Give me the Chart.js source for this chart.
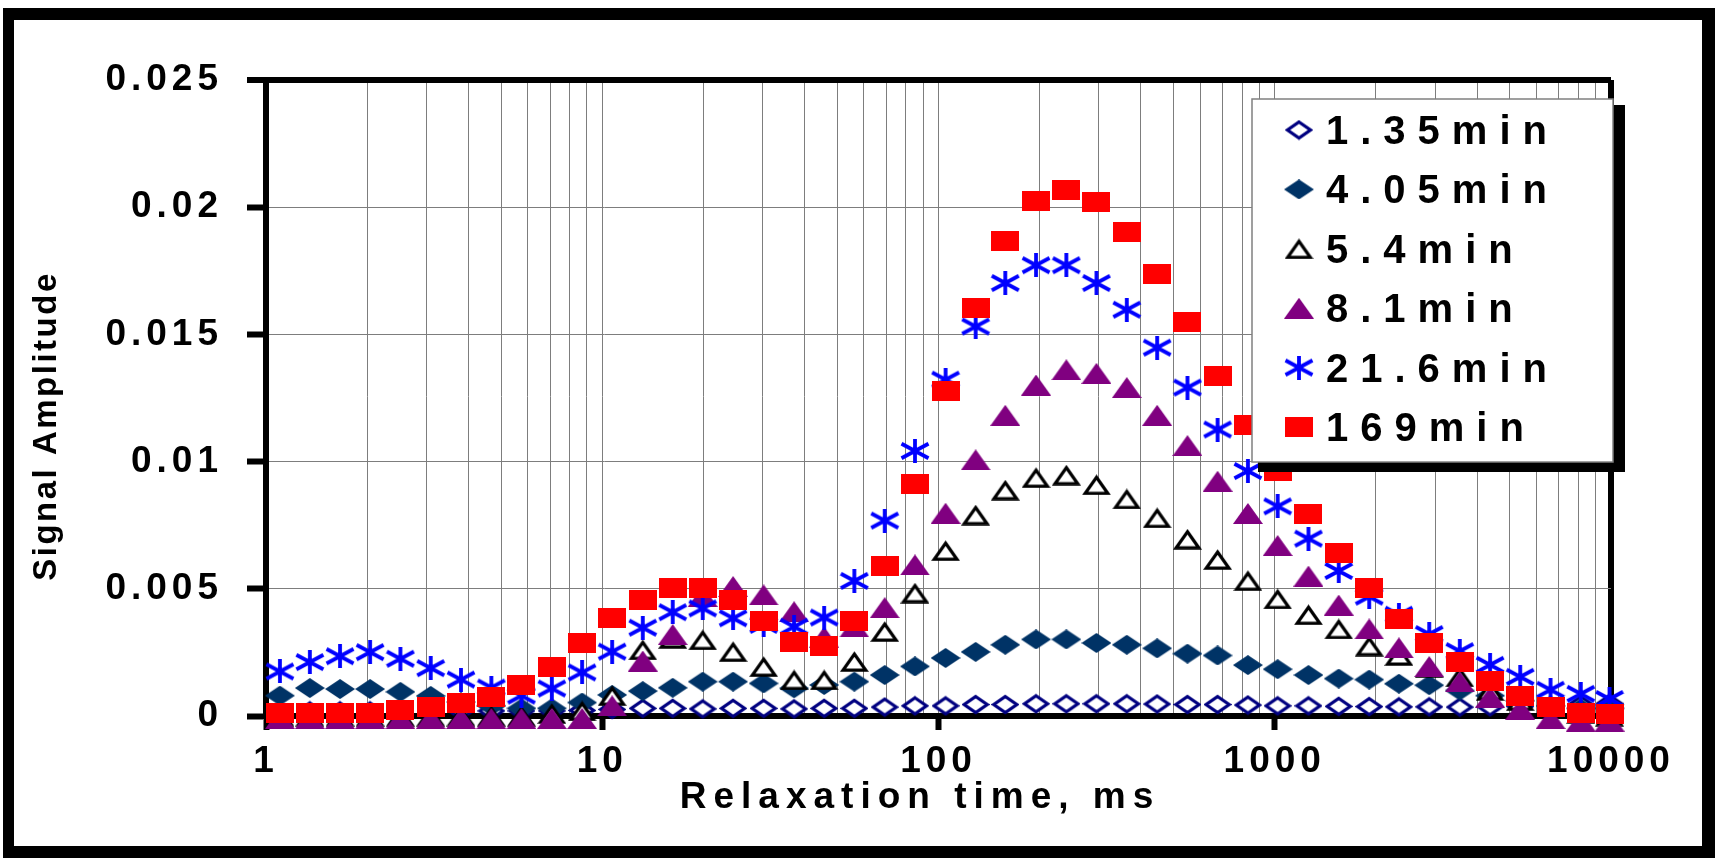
<!DOCTYPE html>
<html>
<head>
<meta charset="utf-8">
<script src="https://cdn.jsdelivr.net/npm/chart.js@4/dist/chart.umd.min.js"></script>
<style>
  html, body { margin: 0; padding: 0; background: #fff; }
  canvas { display: block; }
</style>
</head>
<body>
<canvas id="t2-chart" width="1715" height="858"></canvas>
<script>
// relaxation time bins (ms)
const relaxTimes = [1.1, 1.35, 1.66, 2.04, 2.51, 3.09, 3.8, 4.68, 5.75, 7.08, 8.71, 10.7, 13.2, 16.2, 19.9,
  24.5, 30.2, 37.2, 45.7, 56.2, 69.2, 85.1, 105, 129, 158, 195, 240, 295, 363, 447, 550, 676, 832, 1020,
  1260, 1550, 1910, 2340, 2880, 3550, 4370, 5370, 6610, 8130, 9900];

const seriesNames = ["1.35min", "4.05min", "5.4min", "8.1min", "21.6min", "169min"];

const amp135 = [0.0002, 0.0002, 0.0002, 0.0002, 0.0002, 0.0002, 0.0002, 0.0002, 0.0002, 0.0002, 0.00022,
  0.00026, 0.0003, 0.0003, 0.00028, 0.0003, 0.0003, 0.00028, 0.0003, 0.0003, 0.00035, 0.0004, 0.0004,
  0.00045, 0.00045, 0.00048, 0.00048, 0.00048, 0.00048, 0.00047, 0.00045, 0.00045, 0.00043, 0.0004, 0.0004,
  0.00038, 0.00037, 0.00036, 0.00036, 0.00035, 0.00036, 0.00037, 0.0004, 0.00045, 0.0005];
const amp405 = [0.0008, 0.0011, 0.00106, 0.00106, 0.00095, 0.00079, 0.00055, 0.0004, 0.0003, 0.0003, 0.00053,
  0.00083, 0.00098, 0.00111, 0.00135, 0.00135, 0.00128, 0.00109, 0.00122, 0.00135, 0.00161, 0.00195, 0.00228,
  0.00252, 0.0028, 0.00301, 0.00301, 0.00287, 0.0028, 0.00266, 0.00245, 0.00238, 0.002, 0.00184, 0.00161,
  0.00147, 0.00143, 0.00127, 0.00121, 0.001, 0.0008, 0.0006, 0.0004, 0.0003, 0.0003];
const amp54 = [0, 0, 0, 0, 0, 0, 0, 0, 0, 0.0001, 0.0002, 0.0008, 0.0026, 0.00305, 0.00299, 0.00253, 0.00194,
  0.00142, 0.00142, 0.00214, 0.00332, 0.00483, 0.0065, 0.0079, 0.00888, 0.00937, 0.00947, 0.00909, 0.00853,
  0.00779, 0.00695, 0.00615, 0.00532, 0.0046, 0.00398, 0.00342, 0.00275, 0.00238, 0.0019, 0.00154, 0.001,
  0.0006, 0.0003, 0.0001, 0];
const amp81 = [-0.0001, -0.0001, -0.0001, -0.0001, -0.0001, -0.0001, -0.0001, -0.0001, -0.0001, -0.0001,
  -0.0001, 0.0004, 0.00216, 0.0032, 0.0047, 0.00509, 0.00476, 0.0041, 0.0031, 0.0035, 0.00426, 0.00594,
  0.00797, 0.01007, 0.01182, 0.01301, 0.01361, 0.01347, 0.01291, 0.01182, 0.01063, 0.00923, 0.00796, 0.0067,
  0.0055, 0.00436, 0.00342, 0.00268, 0.00194, 0.00134, 0.00074, 0.00027, -0.0001, -0.0002, -0.0002];
const amp216 = [0.00175, 0.00212, 0.00235, 0.00251, 0.00225, 0.00188, 0.00143, 0.00112, 0.0008, 0.00108,
  0.00171, 0.00253, 0.00347, 0.00408, 0.00423, 0.00384, 0.00358, 0.00351, 0.00387, 0.00531, 0.00768, 0.01042,
  0.01322, 0.01531, 0.01702, 0.01772, 0.01772, 0.01702, 0.01597, 0.01448, 0.01291, 0.01126, 0.00963, 0.00824,
  0.00697, 0.0057, 0.00469, 0.00398, 0.00322, 0.00255, 0.00201, 0.00154, 0.00103, 0.00087, 0.00067];
const amp169 = [0.0001, 0.0001, 0.0001, 0.0001, 0.00024, 0.00037, 0.0005, 0.00073, 0.00122, 0.00194, 0.00288,
  0.00384, 0.00456, 0.00505, 0.00505, 0.00456, 0.00374, 0.0029, 0.00277, 0.00374, 0.0059, 0.0091, 0.01277,
  0.01604, 0.01867, 0.02024, 0.02067, 0.02021, 0.01902, 0.01737, 0.01548, 0.01336, 0.01143, 0.00965, 0.00795,
  0.00639, 0.00505, 0.00382, 0.00286, 0.00212, 0.00138, 0.0008, 0.00034, 0.0001, 0.00007];

const yTicks = [0, 0.005, 0.01, 0.015, 0.02, 0.025];
const yTickLabels = ["0", "0.005", "0.01", "0.015", "0.02", "0.025"];
const xDecades = [1, 10, 100, 1000, 10000];
const xTickLabels = ["1", "10", "100", "1000", "10000"];

const FONT = "'Liberation Sans', Arial, sans-serif";

// gridlines at 1..9 of every decade
const xGrid = [];
xDecades.slice(0, -1).forEach(d => { for (let k = 1; k <= 9; k++) xGrid.push(k * d); });
xGrid.push(xDecades[xDecades.length - 1]);

function makeMarker(w, h, draw) {
  const cv = document.createElement("canvas");
  cv.width = w;
  cv.height = h;
  draw(cv.getContext("2d"), w, h);
  return cv;
}

function diamond(c, w, h, inset) {
  c.beginPath();
  c.moveTo(w / 2, inset);
  c.lineTo(w - inset, h / 2);
  c.lineTo(w / 2, h - inset);
  c.lineTo(inset, h / 2);
  c.closePath();
}

function triangle(c, w, h, inset) {
  c.beginPath();
  c.moveTo(w / 2, inset);
  c.lineTo(w - inset, h - inset * 0.6);
  c.lineTo(inset, h - inset * 0.6);
  c.closePath();
}

const openDiamond = makeMarker(28, 21, (c, w, h) => {
  diamond(c, w, h, 2.5);
  c.fillStyle = "#fff"; c.fill();
  c.lineWidth = 3.2; c.strokeStyle = "#000080"; c.stroke();
});
const filledDiamond = makeMarker(30, 20, (c, w, h) => {
  diamond(c, w, h, 0);
  c.fillStyle = "#003366"; c.fill();
});
const openTriangle = makeMarker(29, 21, (c, w, h) => {
  triangle(c, w, h, 3);
  c.fillStyle = "#fff"; c.fill();
  c.lineWidth = 3.2; c.strokeStyle = "#000"; c.stroke();
});
const filledTriangle = makeMarker(30, 21, (c, w, h) => {
  triangle(c, w, h, 0);
  c.fillStyle = "#800080"; c.fill();
});
const asterisk = makeMarker(30, 24, (c, w, h) => {
  c.strokeStyle = "#0000ff"; c.lineWidth = 3.8;
  c.beginPath();
  c.moveTo(w / 2, 0); c.lineTo(w / 2, h);
  c.moveTo(1.5, h * 0.2); c.lineTo(w - 1.5, h * 0.8);
  c.moveTo(w - 1.5, h * 0.2); c.lineTo(1.5, h * 0.8);
  c.stroke();
});
const redSquare = makeMarker(28, 20, (c, w, h) => {
  c.fillStyle = "#ff0000"; c.fillRect(0, 0, w, h);
});

const markers = [openDiamond, filledDiamond, openTriangle, filledTriangle, asterisk, redSquare];
const seriesValues = [amp135, amp405, amp54, amp81, amp216, amp169];

const datasets = seriesNames.map((name, i) => ({
  label: name,
  data: relaxTimes.map((t, j) => ({ x: t, y: seriesValues[i][j] })),
  pointStyle: markers[i],
  pointRadius: 12,
  pointHoverRadius: 12,
  showLine: false,
  clip: false,
  order: seriesNames.length - i   // later series painted on top, like the original
}));

const decorations = {
  id: "decorations",
  beforeDraw(chart) {
    const c = chart.ctx;
    c.save();
    c.fillStyle = "#fff";
    c.fillRect(0, 0, chart.width, chart.height);
    c.fillStyle = "#000";
    c.fillRect(3, 8, 11, 850);
    c.fillRect(3, 8, 1711, 12);
    c.fillRect(1702, 8, 13, 850);
    c.fillRect(3, 846, 1711, 12);
    c.restore();
    c.letterSpacing = "5px";
  },
  afterDraw(chart) {
    const c = chart.ctx;
    c.letterSpacing = "0px";

    // axis titles
    c.save();
    c.fillStyle = "#000";
    c.font = "bold 33px " + FONT;
    c.letterSpacing = "2.5px";
    c.textAlign = "center";
    c.textBaseline = "alphabetic";
    c.translate(56, 426);
    c.rotate(-Math.PI / 2);
    c.fillText("Signal Amplitude", 0, 0);
    c.restore();

    c.save();
    c.fillStyle = "#000";
    c.font = "bold 37px " + FONT;
    c.letterSpacing = "7px";
    c.textAlign = "center";
    c.textBaseline = "alphabetic";
    c.fillText("Relaxation time, ms", 920, 808);
    c.restore();

    // legend box with its drop shadow
    c.save();
    c.fillStyle = "#000";
    c.fillRect(1258, 105, 367, 367);
    c.fillStyle = "#fff";
    c.fillRect(1252, 99, 361, 363);
    c.strokeStyle = "#808080";
    c.lineWidth = 1.5;
    c.strokeRect(1252, 99, 361, 363);
    c.font = "bold 40px " + FONT;
    c.letterSpacing = "12px";
    c.textAlign = "left";
    c.textBaseline = "alphabetic";
    c.fillStyle = "#000";
    seriesNames.forEach((name, i) => {
      const cy = 130 + i * 59.4;
      const m = markers[i];
      c.drawImage(m, 1299 - m.width / 2, cy - m.height / 2);
      c.fillText(name, 1326, cy + 14);
    });
    c.restore();
  }
};

const tickFont = { family: FONT, size: 37, weight: "bold" };

new Chart(document.getElementById("t2-chart").getContext("2d"), {
  type: "scatter",
  data: { datasets },
  options: {
    responsive: false,
    animation: false,
    events: [],
    layout: { autoPadding: false, padding: { left: 0, top: 80, right: 104, bottom: 0 } },
    plugins: { legend: { display: false }, tooltip: { enabled: false } },
    scales: {
      x: {
        type: "logarithmic",
        min: 1,
        max: 10000,
        afterBuildTicks: scale => { scale.ticks = xGrid.map(v => ({ value: v })); },
        afterFit: scale => { scale.height = 142; },
        ticks: {
          autoSkip: false,
          maxRotation: 0,
          minRotation: 0,
          padding: 10,
          color: "#000",
          font: tickFont,
          callback: value => {
            const k = xDecades.indexOf(value);
            return k >= 0 ? xTickLabels[k] : "";
          }
        },
        grid: {
          color: ctx => (ctx.tick && ctx.tick.value === 10000 ? "#000" : "#7d7d7d"),
          lineWidth: ctx => (ctx.tick && ctx.tick.value === 10000 ? 6 : 1),
          tickColor: ctx => (ctx.tick && xDecades.includes(ctx.tick.value) ? "#000" : "rgba(0,0,0,0)"),
          tickWidth: 6,
          tickLength: 14
        },
        border: { color: "#000", width: 6 }
      },
      y: {
        min: 0,
        max: 0.025,
        afterBuildTicks: scale => { scale.ticks = yTicks.map(v => ({ value: v })); },
        afterFit: scale => { scale.width = 266; },
        ticks: {
          padding: 24,
          color: "#000",
          font: tickFont,
          callback: (value, index) => yTickLabels[index]
        },
        grid: {
          color: ctx => (ctx.tick && ctx.tick.value === 0.025 ? "#000" : "#7d7d7d"),
          lineWidth: ctx => (ctx.tick && ctx.tick.value === 0.025 ? 6 : 1),
          tickColor: "#000",
          tickWidth: 6,
          tickLength: 19
        },
        border: { color: "#000", width: 6 }
      }
    }
  },
  plugins: [decorations]
});
</script>
</body>
</html>
